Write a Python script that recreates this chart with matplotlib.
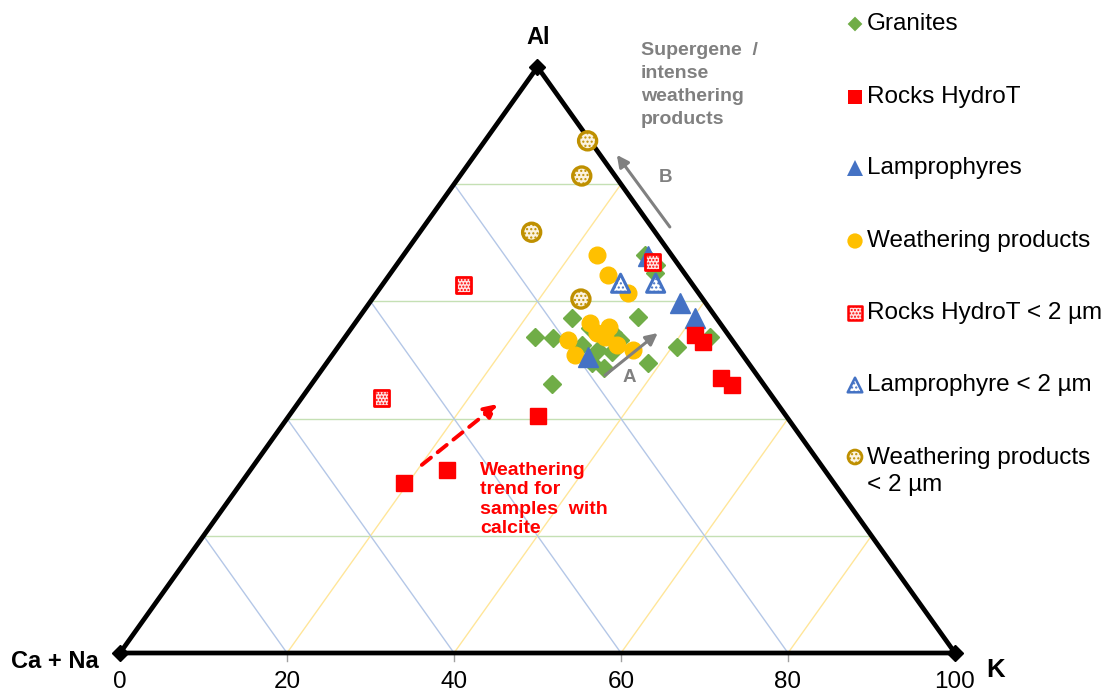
import matplotlib.pyplot as plt

plt.rcParams['font.family'] = ['Liberation Sans', 'DejaVu Sans']
plt.rcParams['hatch.linewidth'] = 1.0

# Compositions in percent: Al and K; Ca + Na is the remainder
granite_al = [53.9, 53.8, 57.2, 45.9, 57.3, 49.5, 52.2, 53.9, 67.9, 66.2, 64.8,
              55.5, 54.6, 52.6, 51.7, 51.4, 49.5, 48.6, 53.4]
granite_k = [22.8, 25.0, 25.5, 28.8, 33.4, 38.5, 40.6, 43.7, 28.9, 31.1, 31.7,
             28.5, 31.7, 29.0, 31.4, 33.2, 31.8, 33.7, 33.2]

rock_al = [29.0, 31.2, 40.4, 54.3, 53.1, 46.9, 45.7]
rock_k = [19.5, 23.6, 29.9, 41.7, 43.3, 48.5, 50.4]

lamp_al = [67.7, 59.7, 57.2, 50.5]
lamp_k = [29.4, 37.2, 40.3, 30.8]

weath_al = [67.9, 64.5, 61.4, 56.3, 55.6, 54.6, 53.9, 53.4, 52.6, 50.9, 51.7]
weath_k = [23.2, 26.2, 30.1, 28.1, 30.8, 29.8, 31.1, 27.0, 33.2, 29.0, 35.6]

rock_fine_al = [62.8, 43.5, 66.7]
rock_fine_k = [9.7, 9.6, 30.4]

lamp_fine_al = [63.1, 63.1]
lamp_fine_k = [28.4, 32.6]

weath_fine_al = [87.4, 81.4, 71.8, 60.4]
weath_fine_k = [12.3, 14.6, 13.4, 25.0]

grid_levels = [20, 40, 60, 80]
tick_labels = ['0', '20', '40', '60', '80', '100']

legend_labels = ['Granites', 'Rocks HydroT', 'Lamprophyres', 'Weathering products',
                 'Rocks HydroT < 2 µm', 'Lamprophyre < 2 µm',
                 'Weathering products\n< 2 µm']

GREEN = '#70AD47'
RED = '#FF0000'
BLUE = '#4472C4'
ORANGE = '#FFC000'
GOLD = '#BF9000'
GREY = '#808080'


def tern(al, k):
    """Ternary (Al, K) -> cartesian; base runs Ca+Na (0) to K (100), apex is Al."""
    al = list(al)
    k = list(k)
    return [ki + a / 2.0 for a, ki in zip(al, k)], al


W, H = 1110, 693
fig = plt.figure(figsize=(W / 100, H / 100), dpi=100)
ax = fig.add_axes([0, 0, 1, 1])
ax.set_xlim(-14.371, 118.563)
ax.set_ylim(-6.826, 111.433)
ax.axis('off')


def fp(px, py):
    return px / W, 1 - py / H


# grid lines
for v in grid_levels:
    ax.plot([v / 2, 100 - v / 2], [v, v], color='#C5E0B4', lw=1.0, zorder=1)
    ax.plot([v, v / 2], [0, v], color='#B4C7E7', lw=1.0, zorder=1)
    ax.plot([v, 50 + v / 2], [0, 100 - v], color='#FFE699', lw=1.0, zorder=1)
    ax.plot([v, v], [0, -1.3], color='#A0A0A0', lw=1.0, zorder=1)

# triangle frame
ax.plot([0, 100, 50, 0], [0, 0, 100, 0], color='black', lw=3.4,
        solid_joinstyle='miter', zorder=2)
ax.plot([0, 100, 50], [0, 0, 100], 'D', color='black', ms=8, zorder=3)

# tick labels along the base
for i, lab in enumerate(tick_labels):
    ax.text(i * 20, -4.9, lab, ha='center', va='center', fontsize=17.5)

fig.text(*fp(55, 662), 'Ca + Na', ha='center', va='center', fontsize=17,
         fontweight='bold')
fig.text(*fp(996, 670), 'K', ha='center', va='center', fontsize=18.5,
         fontweight='bold')
fig.text(*fp(538, 38), 'Al', ha='center', va='center', fontsize=17,
         fontweight='bold')

# data series
x, y = tern(granite_al, granite_k)
ax.plot(x, y, 'D', color=GREEN, ms=9, ls='none', zorder=4)
x, y = tern(weath_al, weath_k)
ax.plot(x, y, 'o', color=ORANGE, ms=12, ls='none', zorder=5)
x, y = tern(lamp_al, lamp_k)
ax.plot(x, y, '^', color=BLUE, ms=14, ls='none', zorder=6)
x, y = tern(rock_al, rock_k)
ax.plot(x, y, 's', color=RED, ms=11, ls='none', zorder=7)

x, y = tern(rock_fine_al, rock_fine_k)
ax.scatter(x, y, s=11 ** 2, marker='s', facecolors='#FFE0E0', edgecolors=RED,
           linewidths=2.0, hatch='.....', zorder=8)
x, y = tern(lamp_fine_al, lamp_fine_k)
ax.scatter(x, y, s=13 ** 2, marker='^', facecolors='white', edgecolors=BLUE,
           linewidths=2.2, hatch='....', zorder=8)
x, y = tern(weath_fine_al, weath_fine_k)
ax.scatter(x, y, s=13 ** 2, marker='o', facecolors='#FBF3E0', edgecolors=GOLD,
           linewidths=2.4, hatch='....', zorder=8)

# trend arrows
a0 = tern([47.4], [34.4])
a1 = tern([54.6], [37.1])
ax.annotate('', xy=(a1[0][0], a1[1][0]), xytext=(a0[0][0], a0[1][0]),
            arrowprops=dict(arrowstyle='-|>,head_length=0.7,head_width=0.35',
                            color=GREY, lw=2.2, shrinkA=0, shrinkB=0), zorder=9)
fig.text(*fp(629, 377), 'A', ha='center', va='center', fontsize=13.5,
         fontweight='bold', color=GREY)

b0 = tern([72.7], [29.5])
b1 = tern([85.0], [17.0])
ax.annotate('', xy=(b1[0][0], b1[1][0]), xytext=(b0[0][0], b0[1][0]),
            arrowprops=dict(arrowstyle='-|>,head_length=0.7,head_width=0.35',
                            color=GREY, lw=2.2, shrinkA=0, shrinkB=0), zorder=9)
fig.text(*fp(665, 178), 'B', ha='center', va='center', fontsize=13.5,
         fontweight='bold', color=GREY)

r0 = tern([32.1], [20.1])
r1 = tern([42.5], [24.0])
ax.annotate('', xy=(r1[0][0], r1[1][0]), xytext=(r0[0][0], r0[1][0]),
            arrowprops=dict(arrowstyle='-|>,head_length=0.8,head_width=0.4',
                            color=RED, lw=2.8, ls=(0, (3, 2.2)),
                            shrinkA=0, shrinkB=0), zorder=9)

fig.text(*fp(480, 462), 'Weathering\ntrend for\nsamples  with\ncalcite',
         ha='left', va='top', fontsize=14, fontweight='bold', color=RED,
         linespacing=1.18)
fig.text(*fp(641, 42), 'Supergene  /\nintense\nweathering\nproducts',
         ha='left', va='top', fontsize=14, fontweight='bold', color=GREY,
         linespacing=1.46)

# legend
leg_y = [24, 97, 168, 241, 313, 385, 457]
mx, tx = 855, 867
tf = fig.transFigure
specs = [
    dict(marker='D', s=7.5 ** 2, facecolors=GREEN, edgecolors='none'),
    dict(marker='s', s=10.5 ** 2, facecolors=RED, edgecolors='none'),
    dict(marker='^', s=11.5 ** 2, facecolors=BLUE, edgecolors='none'),
    dict(marker='o', s=11 ** 2, facecolors=ORANGE, edgecolors='none'),
    dict(marker='s', s=9.5 ** 2, facecolors='#FFE0E0', edgecolors=RED,
         linewidths=1.8, hatch='.....'),
    dict(marker='^', s=10.5 ** 2, facecolors='white', edgecolors=BLUE,
         linewidths=1.8, hatch='....'),
    dict(marker='o', s=10 ** 2, facecolors='#FBF3E0', edgecolors=GOLD,
         linewidths=2.0, hatch='....'),
]
for py, lab, spec in zip(leg_y, legend_labels, specs):
    ax.scatter([mx / W], [1 - py / H], transform=tf, clip_on=False, zorder=10,
               **spec)
    if '\n' in lab:
        fig.text(tx / W, 1 - (py - 10) / H, lab, ha='left', va='top',
                 fontsize=17.5, linespacing=1.3)
    else:
        fig.text(*fp(tx, py), lab, ha='left', va='center', fontsize=17.5)

fig.savefig('out.png', dpi=100)
